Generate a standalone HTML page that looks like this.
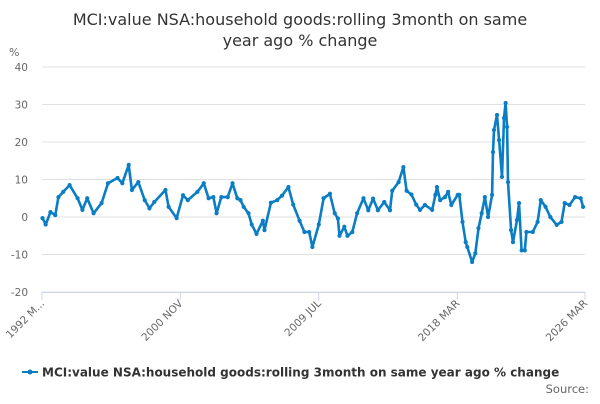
<!DOCTYPE html>
<html><head><meta charset="utf-8"><style>
body{margin:0;background:#fff;font-family:"DejaVu Sans",sans-serif;}
svg text{font-family:"DejaVu Sans",sans-serif;}
</style></head><body>
<svg id="chart" width="600" height="400" viewBox="0 0 600 400" xmlns="http://www.w3.org/2000/svg">
<text x="300" y="25" text-anchor="middle" font-size="16" fill="#333">MCI:value NSA:household goods:rolling 3month on same</text>
<text x="300" y="46" text-anchor="middle" font-size="16" fill="#333">year ago % change</text>
<text x="9" y="56" font-size="11" fill="#666">%</text>
<g id="grid"></g>
<g id="yticks"></g>
<g id="xticks"></g>
<g id="series"></g>
<g>
<line x1="22" y1="372" x2="38" y2="372" stroke="#0b7dc4" stroke-width="2"/>
<circle cx="30" cy="372" r="2.5" fill="#0b7dc4"/>
<text x="42" y="376.5" font-size="12" font-weight="bold" fill="#333">MCI:value NSA:household goods:rolling 3month on same year ago % change</text>
</g>
<text x="589" y="393" text-anchor="end" font-size="11.5" fill="#666">Source:</text>
</svg>
<script>
const yTicks=[40,30,20,10,0,-10,-20];
const xTickLabels=["1992 M...","2000 NOV","2009 JUL","2018 MAR","2026 MAR"];
const xTickYears=[1992.17,2000.83,2009.5,2018.17,2026.17];
const dates=[1992.2,1992.4,1992.7,1993.0,1993.2,1993.5,1993.9,1994.4,1994.7,1995.0,1995.4,1995.9,1996.3,1996.9,1997.2,1997.6,1997.8,1998.2,1998.6,1998.9,1999.2,1999.9,2000.1,2000.6,2001.0,2001.3,2001.9,2002.3,2002.6,2002.9,2003.1,2003.4,2003.8,2004.1,2004.4,2004.6,2004.8,2005.1,2005.3,2005.6,2006.0,2006.1,2006.5,2006.9,2007.2,2007.6,2007.9,2008.3,2008.6,2008.9,2009.1,2009.5,2009.8,2010.2,2010.5,2010.7,2010.8,2011.1,2011.3,2011.6,2011.9,2012.3,2012.6,2012.9,2013.2,2013.6,2013.96,2014.1,2014.5,2014.8,2015.0,2015.3,2015.6,2015.84,2016.15,2016.6,2016.8,2016.9,2017.1,2017.4,2017.6,2017.8,2018.2,2018.3,2018.5,2018.7,2018.8,2019.1,2019.3,2019.5,2019.7,2019.9,2020.1,2020.35,2020.41,2020.47,2020.66,2020.79,2020.97,2021.1,2021.2,2021.29,2021.35,2021.54,2021.66,2021.91,2022.04,2022.2,2022.4,2022.5,2022.9,2023.2,2023.4,2023.7,2024.0,2024.4,2024.7,2024.9,2025.2,2025.55,2025.9,2026.05];
const values=[-0.3,-2,1.3,0.5,5.3,6.7,8.5,5,1.9,5,1,3.7,9,10.4,9,13.9,7.2,9.3,4.5,2.3,4,7.2,2.7,-0.3,5.8,4.5,6.7,9,5,5.3,1,5.3,5.3,9,5,4.5,2.7,1,-2,-4.5,-1,-3.5,3.8,4.5,5.7,8,3.3,-1,-4,-4,-8,-2,5,6.2,1,-0.4,-5,-2.6,-5,-4,1,5,1.8,4.9,1.8,4,1.8,7,9.3,13.3,7,6,3.3,1.9,3.2,1.9,5.9,8,4.5,5.3,6.7,3.2,5.9,5.9,-1.3,-6.7,-8,-12,-9.7,-3,1,5.3,0,5.9,17.3,23.2,27.2,20.5,10.7,26.4,30.4,24,9.3,-3.5,-6.7,-0.8,3.7,-8.9,-8.9,-4,-4,-1.3,4.5,2.7,0,-2.1,-1.3,3.7,3.2,5.3,5,2.7];
const NS="http://www.w3.org/2000/svg";
const X0=42,X1=585,Y0=67,Y1=292,T0=1992.17,T1=2026.17,VMAX=40,VMIN=-20;
function xs(t){return X0+(t-T0)/(T1-T0)*(X1-X0);}
function ys(v){return Y0+(VMAX-v)/(VMAX-VMIN)*(Y1-Y0);}
function mk(tag,attrs,parent){const e=document.createElementNS(NS,tag);for(const k in attrs)e.setAttribute(k,attrs[k]);parent.appendChild(e);return e;}
const grid=document.getElementById('grid'),yt=document.getElementById('yticks'),xt=document.getElementById('xticks'),ser=document.getElementById('series');
yTicks.forEach(v=>{
 const l=mk('line',{x1:X0,x2:X1,y1:ys(v),y2:ys(v),stroke:'#e0e0e0','stroke-width':1},grid);
 
 
 const t=mk('text',{x:28,y:ys(v)+4,'text-anchor':'end','font-size':10.5,fill:'#666'},yt);
 
 
 t.textContent=v;
});
mk('line',{x1:X0,x2:X1,y1:Y1+0.5,y2:Y1+0.5,stroke:'#ccd6eb','stroke-width':1},xt);
xTickYears.forEach((yr,i)=>{
 const x=xs(yr);
 const tk=mk('line',{x1:x,x2:x,y1:Y1,y2:Y1+8,stroke:'#ccd6eb'},xt);
 
 
 const t=mk('text',{x:x+3,y:Y1+12,'text-anchor':'end','font-size':10.5,fill:'#666',transform:`rotate(-45 ${x+3} ${Y1+12})`},xt);
 
 
 t.textContent=xTickLabels[i];
});
const d=dates.map((t,i)=>(i?'L':'M')+xs(t).toFixed(1)+' '+ys(values[i]).toFixed(1)).join(' ');
const p=mk('path',{d:d,fill:'none',stroke:'#0b7dc4','stroke-width':2.6,'stroke-linejoin':'round'},ser);


dates.forEach((t,i)=>{
 const c=mk('circle',{cx:xs(t),cy:ys(values[i]),r:2.1,fill:'#0b7dc4'},ser);
 
 
});
</script>
</body></html>
